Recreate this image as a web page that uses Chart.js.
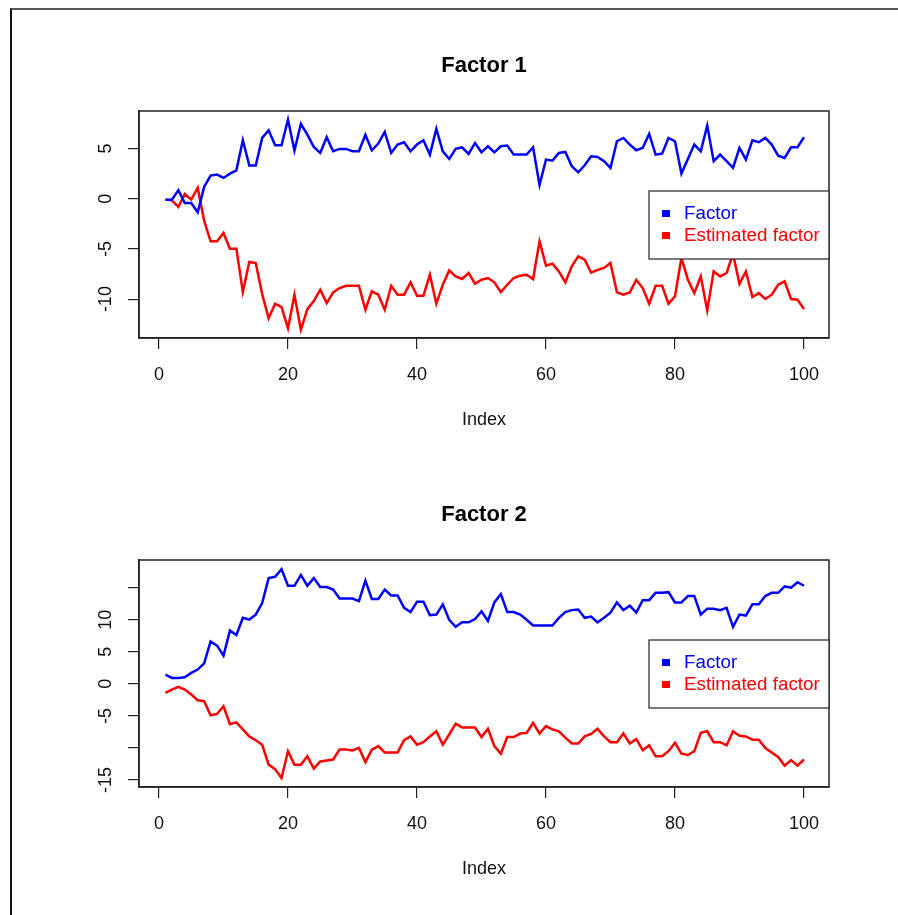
<!DOCTYPE html>
<html><head><meta charset="utf-8">
<script src="https://cdn.jsdelivr.net/npm/chart.js@4/dist/chart.umd.min.js"></script>
<style>
html,body{margin:0;padding:0;background:#fff;width:898px;height:915px;overflow:hidden;position:relative;}
#frame{position:absolute;left:10px;top:8px;width:900px;height:920px;border-top:2px solid #555;border-left:2px solid #111;}
canvas{position:absolute;left:0;}
#c1{top:0}
#c2{top:449px}
</style></head><body>
<div id="frame"></div>
<canvas id="c1" width="898" height="449"></canvas>
<canvas id="c2" width="898" height="449"></canvas>
<script>
const indexValues = [1,2,3,4,5,6,7,8,9,10,11,12,13,14,15,16,17,18,19,20,21,22,23,24,25,26,27,28,29,30,31,32,33,34,35,36,37,38,39,40,41,42,43,44,45,46,47,48,49,50,51,52,53,54,55,56,57,58,59,60,61,62,63,64,65,66,67,68,69,70,71,72,73,74,75,76,77,78,79,80,81,82,83,84,85,86,87,88,89,90,91,92,93,94,95,96,97,98,99,100];

const seriesLabels = ['Factor', 'Estimated factor'];
const chartTitles = ['Factor 1', 'Factor 2'];
const xAxisTitle = 'Index';

const factor1 = [-0.1,-0.1,0.83,-0.43,-0.43,-1.36,1.16,2.29,2.39,2.06,2.49,2.82,5.81,3.29,3.29,6.04,6.8,5.31,5.31,7.87,4.78,7.44,6.37,5.15,4.55,6.11,4.71,4.95,4.95,4.71,4.71,6.34,4.81,5.48,6.64,4.55,5.38,5.61,4.71,5.38,5.81,4.38,6.94,4.71,3.95,4.95,5.11,4.45,5.54,4.61,5.21,4.61,5.21,5.28,4.38,4.38,4.38,5.11,1.36,3.88,3.78,4.55,4.65,3.22,2.62,3.32,4.22,4.15,3.72,3.05,5.71,6.04,5.38,4.81,5.05,6.44,4.38,4.48,6.04,5.71,2.49,3.95,5.38,4.71,7.27,3.72,4.38,3.72,3.05,5.05,3.88,5.81,5.61,6.04,5.38,4.28,4.05,5.11,5.11,6.11];

const estimated1 = [-0.1,-0.17,-0.83,0.46,-0.1,1.06,-2.2,-4.25,-4.25,-3.42,-4.98,-4.98,-9.3,-6.31,-6.41,-9.5,-11.9,-10.46,-10.8,-12.9,-9.56,-13.05,-11.0,-10.2,-9.06,-10.4,-9.33,-8.9,-8.67,-8.67,-8.67,-11.06,-9.23,-9.56,-11.06,-8.67,-9.56,-9.56,-8.33,-9.66,-9.66,-7.57,-10.46,-8.57,-7.14,-7.74,-8.0,-7.4,-8.47,-8.07,-7.9,-8.33,-9.3,-8.57,-7.9,-7.67,-7.57,-8.0,-4.25,-6.67,-6.47,-7.24,-8.33,-6.74,-5.74,-6.08,-7.37,-7.1,-6.9,-6.4,-9.33,-9.56,-9.33,-8.07,-8.9,-10.46,-8.67,-8.67,-10.46,-9.73,-5.9,-8.07,-9.4,-7.74,-11.12,-7.24,-7.74,-7.4,-5.5,-8.47,-7.24,-9.79,-9.4,-9.99,-9.56,-8.57,-8.23,-9.99,-10.06,-10.99];

const factor2 = [1.45,0.93,0.93,1.03,1.71,2.23,3.2,6.6,5.97,4.41,8.3,7.6,10.3,10.03,10.8,12.6,16.5,16.7,17.9,15.3,15.3,17.0,15.3,16.5,15.1,15.1,14.7,13.3,13.3,13.3,12.9,16.1,13.25,13.25,14.7,13.8,13.8,11.85,11.2,12.8,12.8,10.7,10.8,12.4,10.0,8.9,9.6,9.6,10.1,11.3,9.8,12.7,14.0,11.2,11.2,10.8,10.0,9.1,9.1,9.1,9.1,10.3,11.2,11.5,11.6,10.3,10.5,9.6,10.3,11.1,12.7,11.5,12.2,11.1,13.05,13.05,14.2,14.2,14.3,12.7,12.7,13.7,13.7,10.8,11.7,11.7,11.5,11.85,8.9,10.8,10.65,12.4,12.4,13.7,14.2,14.2,15.2,15.0,15.85,15.3];

const estimated2 = [-1.4,-0.9,-0.47,-0.9,-1.67,-2.55,-2.7,-4.9,-4.7,-3.5,-6.3,-6.0,-7.1,-8.2,-8.8,-9.5,-12.6,-13.3,-14.7,-10.5,-12.6,-12.6,-11.3,-13.2,-12.1,-11.96,-11.8,-10.25,-10.25,-10.4,-10.0,-12.2,-10.25,-9.7,-10.7,-10.7,-10.7,-8.8,-8.2,-9.5,-9.1,-8.2,-7.4,-9.5,-7.9,-6.2,-6.8,-6.8,-6.8,-8.3,-7.0,-9.7,-10.9,-8.3,-8.3,-7.75,-7.65,-6.1,-7.75,-6.6,-7.1,-7.4,-8.4,-9.3,-9.3,-8.2,-7.8,-7.0,-8.2,-9.1,-9.1,-7.75,-9.3,-8.6,-10.35,-9.6,-11.3,-11.3,-10.5,-9.2,-10.9,-11.1,-10.5,-7.65,-7.4,-9.1,-9.1,-9.6,-7.4,-8.1,-8.2,-8.7,-8.7,-10.0,-10.7,-11.4,-12.75,-11.9,-12.75,-11.8];

const xTicks = [0, 20, 40, 60, 80, 100];
const y1Ticks = [-10, -5, 0, 5];
const y1TickLabels = ['-10', '-5', '0', '5'];
const y2Ticks = [-15, -10, -5, 0, 5, 10, 15];
const y2TickLabels = ['-15', '', '-5', '0', '5', '10', ''];

const FONT = '"Liberation Sans", Arial, Helvetica, sans-serif';

const boxAndLegend = {
  id: 'boxAndLegend',
  afterDraw(chart) {
    const {ctx, chartArea: a} = chart;
    ctx.save();
    ctx.strokeStyle = '#222';
    ctx.lineWidth = 1.5;
    ctx.strokeRect(a.left, a.top, a.right - a.left, a.bottom - a.top);
    const w = 180, h = 68;
    const lx = a.right - w, ly = a.top + 80;
    ctx.fillStyle = '#fff';
    ctx.fillRect(lx, ly, w, h);
    ctx.lineWidth = 1.2;
    ctx.strokeRect(lx, ly, w, h);
    ctx.font = '18.8px ' + FONT;
    ctx.textBaseline = 'middle';
    ctx.textAlign = 'left';
    chart.data.datasets.forEach((ds, i) => {
      const cy = ly + 22.5 + i * 22;
      ctx.fillStyle = ds.borderColor;
      ctx.fillRect(lx + 13, cy - 3.5, 8, 7);
      ctx.fillText(ds.label, lx + 35, cy);
    });
    ctx.restore();
  }
};

function makeChart(id, title, fVals, eVals, yMin, yMax, yTicks, yLabels) {
  return new Chart(document.getElementById(id), {
    type: 'line',
    data: {
      datasets: [
        { label: seriesLabels[0], data: fVals.map((v, i) => ({x: indexValues[i], y: v})),
          borderColor: '#0000ff', backgroundColor: '#0000ff', borderWidth: 2.5, pointRadius: 0, tension: 0, fill: false },
        { label: seriesLabels[1], data: eVals.map((v, i) => ({x: indexValues[i], y: v})),
          borderColor: '#ff0000', backgroundColor: '#ff0000', borderWidth: 2.5, pointRadius: 0, tension: 0, fill: false }
      ]
    },
    options: {
      responsive: false, animation: false, devicePixelRatio: 1,
      layout: { padding: { left: 0, right: 69, top: 0, bottom: 0 } },
      plugins: {
        legend: { display: false },
        tooltip: { enabled: false },
        title: { display: true, text: title, fullSize: false, color: '#000',
          font: { family: FONT, size: 22, weight: 'bold', lineHeight: 1.2 },
          padding: { top: 52.8, bottom: 31.8 } }
      },
      scales: {
        x: {
          type: 'linear', min: -3.1, max: 103.88,
          afterBuildTicks: s => { s.ticks = xTicks.map(v => ({value: v})); },
          afterFit: s => { s.height = 111; },
          grid: { display: true, drawOnChartArea: false, drawTicks: true, tickLength: 11, color: '#222', lineWidth: 1.2 },
          border: { display: true, color: '#222', width: 1.5 },
          ticks: { autoSkip: false, maxRotation: 0, padding: 15, color: '#111',
            font: { family: FONT, size: 18, lineHeight: 1.2 }, callback: v => String(v) },
          title: { display: true, text: xAxisTitle, color: '#111',
            font: { family: FONT, size: 18, lineHeight: 1.2 }, padding: { top: 0, bottom: 18 } }
        },
        y: {
          type: 'linear', min: yMin, max: yMax,
          afterBuildTicks: s => { s.ticks = yTicks.map(v => ({value: v})); },
          afterFit: s => { s.width = 139; },
          grid: { display: true, drawOnChartArea: false, drawTicks: true, tickLength: 11, color: '#222', lineWidth: 1.2 },
          border: { display: true, color: '#222', width: 1.5 },
          ticks: { autoSkip: false, minRotation: 90, maxRotation: 90, crossAlign: 'center', padding: 9, color: '#111',
            font: { family: FONT, size: 18, lineHeight: 1.2 },
            callback: v => { const k = yTicks.indexOf(v); return k >= 0 ? yLabels[k] : ''; } }
        }
      }
    },
    plugins: [boxAndLegend]
  });
}

makeChart('c1', chartTitles[0], factor1, estimated1, -13.87, 8.72, y1Ticks, y1TickLabels);
makeChart('c2', chartTitles[1], factor2, estimated2, -16.09, 19.32, y2Ticks, y2TickLabels);
</script>
</body></html>
